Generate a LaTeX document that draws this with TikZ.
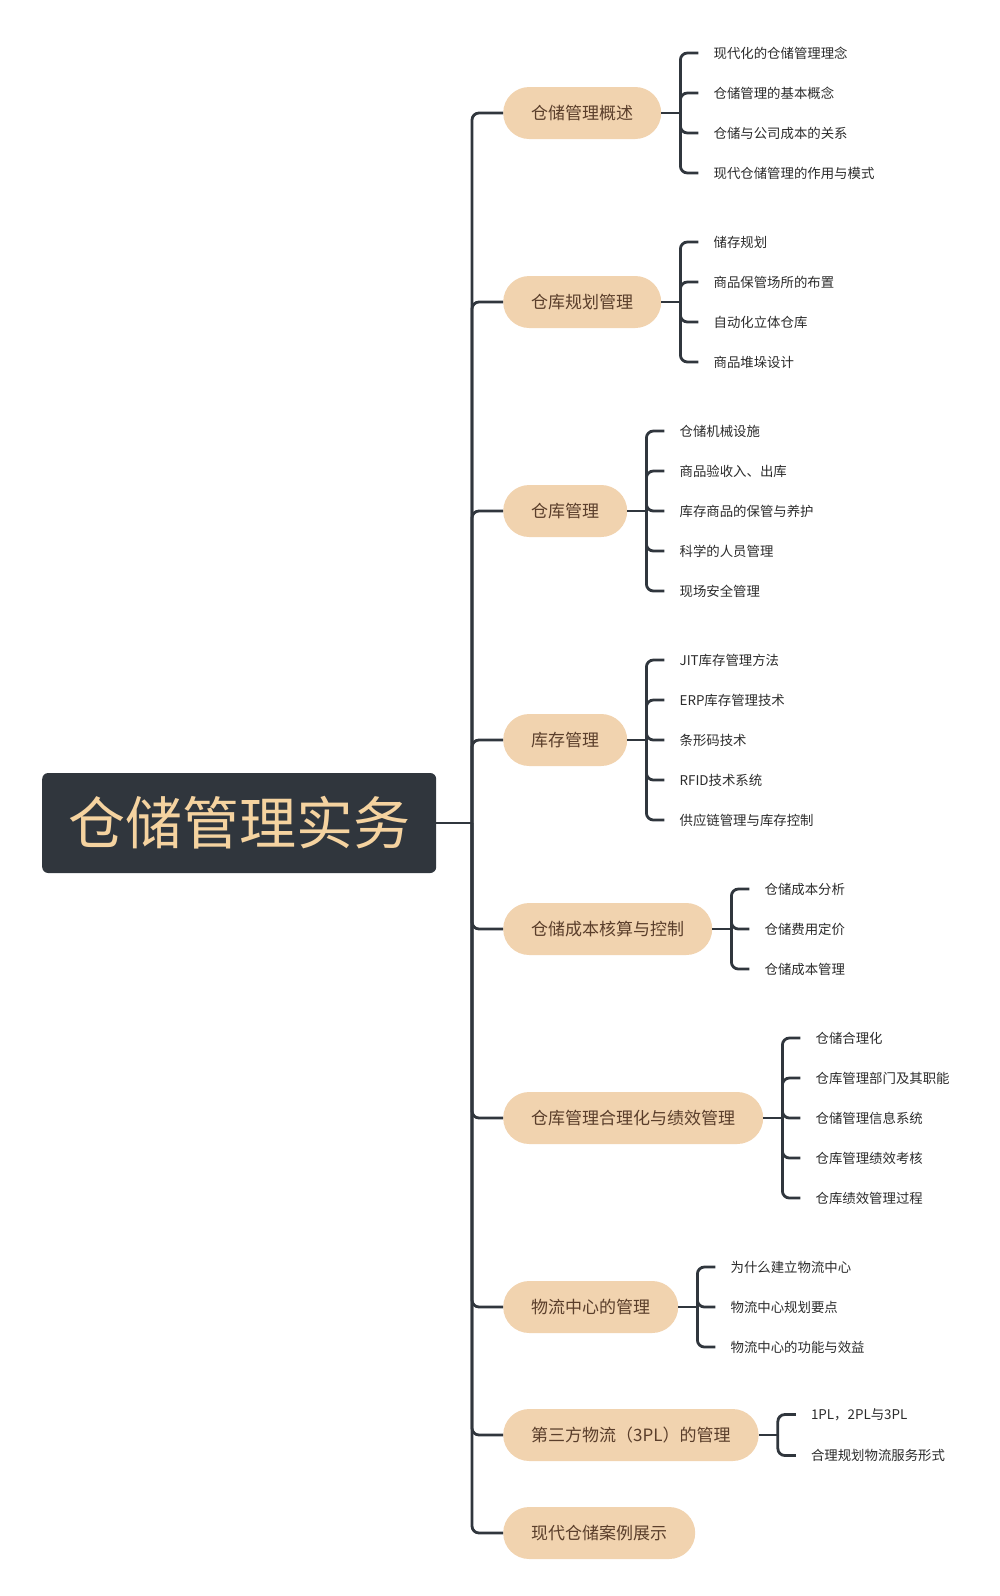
\documentclass[tikz,border=0pt]{standalone}
\usepackage{fontspec}
\setmainfont{Noto Sans CJK SC}
\definecolor{linec}{HTML}{30363D}
\definecolor{rootfill}{HTML}{30363D}
\definecolor{roottext}{HTML}{F5D3A0}
\definecolor{brfill}{HTML}{F1D3AF}
\definecolor{brtext}{HTML}{5A3E2B}
\definecolor{leaftext}{HTML}{2B2B2B}
\tikzset{
  rootbox/.style={fill=rootfill, text=roottext, rounded corners=6pt, minimum height=100pt, inner xsep=26pt, font=\fontsize{57}{60}\selectfont, anchor=west},
  brbox/.style={fill=brfill, text=brtext, rounded corners=26pt, minimum height=52pt, inner xsep=28pt, inner ysep=0pt, font=\fontsize{17}{20}\selectfont, anchor=west},
  leafbox/.style={text=leaftext, inner xsep=15pt, inner ysep=2pt, font=\fontsize{13.4}{16}\selectfont, anchor=west},
  conn/.style={draw=linec, line width=2.8pt, rounded corners=7pt}
}
\begin{document}
\begin{tikzpicture}[x=1pt,y=-1pt]
\useasboundingbox (0,0) rectangle (1000,1596);
\node[rootbox] (root) at (42,823) {仓储管理实务};
\coordinate (tr) at (472,823);
\draw[conn] (root.east) -- (tr);

\node[brbox] (b1) at (503,113) {仓储管理概述};
\node[brbox] (b2) at (503,302) {仓库规划管理};
\node[brbox] (b3) at (503,511) {仓库管理};
\node[brbox] (b4) at (503,740) {库存管理};
\node[brbox] (b5) at (503,929) {仓储成本核算与控制};
\node[brbox] (b6) at (503,1118) {仓库管理合理化与绩效管理};
\node[brbox] (b7) at (503,1307) {物流中心的管理};
\node[brbox] (b8) at (503,1435) {第三方物流（3PL）的管理};
\node[brbox] (b9) at (503,1533) {现代仓储案例展示};

\foreach \b in {b1,b2,b3,b4,b5,b6,b7,b8,b9}{
  \draw[conn] (tr) |- (\b.west);
}

% bracket points
\foreach \b in {1,...,8}{
  \coordinate (k\b) at ([xshift=19pt]b\b.east);
  \draw[conn] (b\b.east) -- (k\b);
}

% leaves b1
\node[leafbox] (l1a) at ([xshift=18pt,yshift=60pt]k1) {现代化的仓储管理理念};
\node[leafbox] (l1b) at ([xshift=18pt,yshift=20pt]k1) {仓储管理的基本概念};
\node[leafbox] (l1c) at ([xshift=18pt,yshift=-20pt]k1) {仓储与公司成本的关系};
\node[leafbox] (l1d) at ([xshift=18pt,yshift=-60pt]k1) {现代仓储管理的作用与模式};
% leaves b2
\node[leafbox] (l2a) at ([xshift=18pt,yshift=60pt]k2) {储存规划};
\node[leafbox] (l2b) at ([xshift=18pt,yshift=20pt]k2) {商品保管场所的布置};
\node[leafbox] (l2c) at ([xshift=18pt,yshift=-20pt]k2) {自动化立体仓库};
\node[leafbox] (l2d) at ([xshift=18pt,yshift=-60pt]k2) {商品堆垛设计};
% leaves b3
\node[leafbox] (l3a) at ([xshift=18pt,yshift=80pt]k3) {仓储机械设施};
\node[leafbox] (l3b) at ([xshift=18pt,yshift=40pt]k3) {商品验收入、出库};
\node[leafbox] (l3c) at ([xshift=18pt,yshift=0pt]k3) {库存商品的保管与养护};
\node[leafbox] (l3d) at ([xshift=18pt,yshift=-40pt]k3) {科学的人员管理};
\node[leafbox] (l3e) at ([xshift=18pt,yshift=-80pt]k3) {现场安全管理};
% leaves b4
\node[leafbox] (l4a) at ([xshift=18pt,yshift=80pt]k4) {JIT库存管理方法};
\node[leafbox] (l4b) at ([xshift=18pt,yshift=40pt]k4) {ERP库存管理技术};
\node[leafbox] (l4c) at ([xshift=18pt,yshift=0pt]k4) {条形码技术};
\node[leafbox] (l4d) at ([xshift=18pt,yshift=-40pt]k4) {RFID技术系统};
\node[leafbox] (l4e) at ([xshift=18pt,yshift=-80pt]k4) {供应链管理与库存控制};
% leaves b5
\node[leafbox] (l5a) at ([xshift=18pt,yshift=40pt]k5) {仓储成本分析};
\node[leafbox] (l5b) at ([xshift=18pt,yshift=0pt]k5) {仓储费用定价};
\node[leafbox] (l5c) at ([xshift=18pt,yshift=-40pt]k5) {仓储成本管理};
% leaves b6
\node[leafbox] (l6a) at ([xshift=18pt,yshift=80pt]k6) {仓储合理化};
\node[leafbox] (l6b) at ([xshift=18pt,yshift=40pt]k6) {仓库管理部门及其职能};
\node[leafbox] (l6c) at ([xshift=18pt,yshift=0pt]k6) {仓储管理信息系统};
\node[leafbox] (l6d) at ([xshift=18pt,yshift=-40pt]k6) {仓库管理绩效考核};
\node[leafbox] (l6e) at ([xshift=18pt,yshift=-80pt]k6) {仓库绩效管理过程};
% leaves b7
\node[leafbox] (l7a) at ([xshift=18pt,yshift=40pt]k7) {为什么建立物流中心};
\node[leafbox] (l7b) at ([xshift=18pt,yshift=0pt]k7) {物流中心规划要点};
\node[leafbox] (l7c) at ([xshift=18pt,yshift=-40pt]k7) {物流中心的功能与效益};
% leaves b8
\node[leafbox] (l8a) at ([xshift=18pt,yshift=20.5pt]k8) {1PL，2PL与3PL};
\node[leafbox] (l8b) at ([xshift=18pt,yshift=-20.5pt]k8) {合理规划物流服务形式};

\foreach \k/\ls in {1/{a,b,c,d},2/{a,b,c,d},3/{a,b,c,d,e},4/{a,b,c,d,e},5/{a,b,c},6/{a,b,c,d,e},7/{a,b,c},8/{a,b}}{
  \foreach \l in \ls {
    \draw[conn] (k\k) |- (l\k\l.west);
  }
}
\end{tikzpicture}
\end{document}
